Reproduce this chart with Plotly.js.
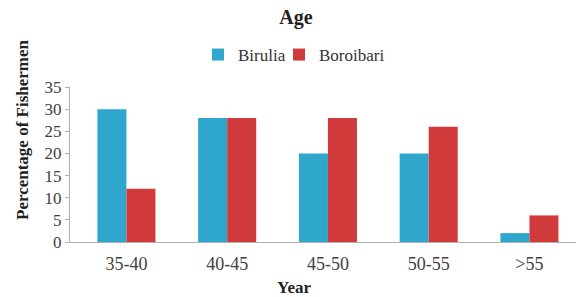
<!DOCTYPE html>
<html><head><meta charset="utf-8">
<script src="https://cdn.plot.ly/plotly-3.0.1.min.js"></script>
<style>body{margin:0;background:#fff}#c{width:576px;height:297px}</style>
</head><body><div id="c"></div>
<script>
const categories = ["35-40", "40-45", "45-50", "50-55", ">55"];
const birulia = [30, 28, 20, 20, 2];
const boroibari = [12, 28, 28, 26, 6];
const serif = "Liberation Serif, Times New Roman, serif";
const traces = [
  {type: "bar", name: "Birulia", x: categories, y: birulia, marker: {color: "#2fa6cb"}, legendwidth: 36},
  {type: "bar", name: "Boroibari", x: categories, y: boroibari, marker: {color: "#d13a3a"}, legendwidth: 80}
];
const layout = {
  width: 576, height: 297,
  margin: {l: 70, r: 0, t: 87, b: 55},
  paper_bgcolor: "#fff", plot_bgcolor: "#fff",
  font: {family: serif, color: "#404040", size: 16},
  title: {text: "<b>Age</b>", x: 296 / 576, xanchor: "center", y: 1 - 17 / 297, yanchor: "middle", font: {family: serif, size: 20, color: "#222"}},
  showlegend: true,
  legend: {orientation: "h", x: (198 - 70) / 506, xanchor: "left", y: (242 - 55) / 155, yanchor: "middle", font: {family: serif, size: 17, color: "#333"}, itemwidth: 30},
  barmode: "group", bargap: 0.424, bargroupgap: 0,
  xaxis: {
    type: "category", range: [-0.56, 4.462], showline: true, linecolor: "#b0b0b0", linewidth: 1, ticks: "", showgrid: false,
    tickfont: {family: serif, size: 18, color: "#404040"}, ticklabelstandoff: 5
  },
  yaxis: {
    range: [0, 35], dtick: 5, showline: true, linecolor: "#b0b0b0", linewidth: 1, ticks: "outside", ticklen: 4, tickcolor: "#b0b0b0",
    showgrid: false, zeroline: false,
    tickfont: {family: serif, size: 17, color: "#404040"}
  },
  annotations: [
    {text: "<b>Percentage of Fishermen</b>", xref: "paper", yref: "paper", x: (22 - 70) / 506, y: (242 - 130) / 155, xanchor: "center", yanchor: "middle", textangle: -90, showarrow: false, font: {family: serif, size: 17, color: "#222"}},
    {text: "<b>Year</b>", xref: "paper", yref: "paper", x: (294 - 70) / 506, y: (242 - 287) / 155, xanchor: "center", yanchor: "middle", showarrow: false, font: {family: serif, size: 17, color: "#222"}}
  ]
};
Plotly.newPlot("c", traces, layout, {displayModeBar: false, staticPlot: true});
</script></body></html>
